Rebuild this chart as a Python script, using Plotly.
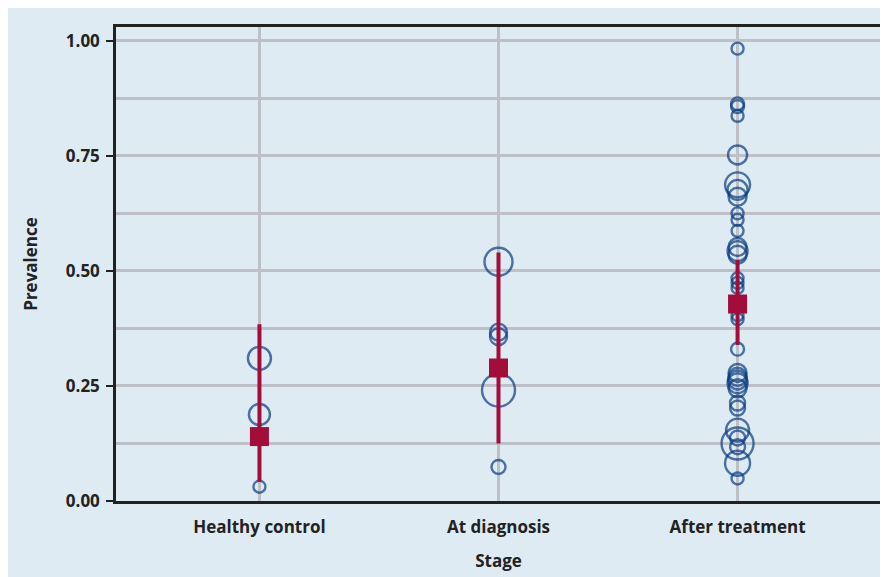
import plotly.graph_objects as go

stages = ["Healthy control", "At diagnosis", "After treatment"]

# individual study prevalences and relative study weights
healthy_prev = [0.310, 0.188, 0.031]
healthy_w = [23, 21, 12]
diag_prev = [0.520, 0.367, 0.357, 0.241, 0.074]
diag_w = [28, 17, 17, 33, 14]
after_prev = [0.983, 0.863, 0.857, 0.837, 0.752, 0.687, 0.676, 0.661, 0.625, 0.611,
              0.587, 0.552, 0.543, 0.535, 0.484, 0.474, 0.463, 0.430, 0.404, 0.395,
              0.330, 0.278, 0.270, 0.263, 0.256, 0.245, 0.213, 0.202, 0.154, 0.137,
              0.125, 0.118, 0.082, 0.049]
after_w = [12, 13, 13, 12, 19, 25, 20, 18, 12, 12,
           12, 18, 20, 18, 12, 12, 12, 12, 12, 12,
           13, 18, 18, 19, 20, 18, 15, 15, 23, 15,
           32, 15, 25, 12]

# pooled estimates with confidence intervals
pooled = [0.140, 0.289, 0.428]
ci_low = [0.042, 0.125, 0.339]
ci_high = [0.384, 0.540, 0.524]

BLUE = "#083c80"
RED = "#a20d3a"
BG = "#deebf3"
GRID = "#bfbfc7"
INK = "#222222"

fig = go.Figure()

xs, ys, ws = [], [], []
for s, p, w in zip(stages, [healthy_prev, diag_prev, after_prev], [healthy_w, diag_w, after_w]):
    xs += [s] * len(p)
    ys += p
    ws += w

fig.add_trace(go.Scatter(
    x=xs, y=ys, mode="markers",
    marker=dict(symbol="circle-open", size=ws, color=BLUE, line=dict(width=2.4, color=BLUE)),
    showlegend=False, hoverinfo="skip"))

fig.add_trace(go.Scatter(
    x=stages, y=pooled, mode="markers",
    marker=dict(symbol="square", size=19, color=RED),
    error_y=dict(type="data", symmetric=False,
                 array=[h - p for h, p in zip(ci_high, pooled)],
                 arrayminus=[p - l for l, p in zip(ci_low, pooled)],
                 color=RED, thickness=4, width=0),
    showlegend=False, hoverinfo="skip"))

font_bold = dict(family="Open Sans", size=17, color=INK, weight="bold")

fig.update_layout(
    width=880, height=569,
    margin=dict(l=108, r=4, t=19, b=76),
    paper_bgcolor=BG, plot_bgcolor=BG,
    font=font_bold,
    xaxis=dict(type="category", range=[-0.6, 2.6],
               showgrid=True, gridcolor=GRID, gridwidth=2.5,
               showline=True, linecolor=INK, linewidth=2.5, mirror=True,
               ticks="", tickfont=font_bold, ticklabelstandoff=9,
               title=dict(text="Stage", font=font_bold, standoff=18),
               zeroline=False),
    yaxis=dict(range=[0, 1.03], tickvals=[0, 0.25, 0.5, 0.75, 1.0],
               ticktext=["0.00", "0.25", "0.50", "0.75", "1.00"],
               showgrid=True, gridcolor=GRID, gridwidth=2.5,
               minor=dict(tickvals=[0.125, 0.375, 0.625, 0.875], showgrid=True,
                          gridcolor=GRID, gridwidth=2.5, ticks=""),
               showline=True, linecolor=INK, linewidth=2.5, mirror=True,
               ticks="outside", ticklen=7, tickwidth=2, tickcolor=INK,
               tickfont=font_bold, ticklabelstandoff=3,
               title=dict(text="Prevalence", font=font_bold, standoff=24),
               zeroline=False),
)

fig.write_html("out.html")
